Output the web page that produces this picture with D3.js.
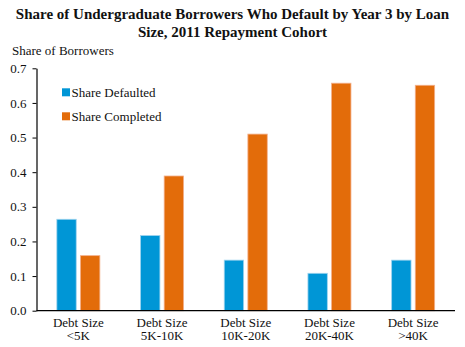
<!DOCTYPE html>
<html>
<head>
<meta charset="utf-8">
<script src="https://cdnjs.cloudflare.com/ajax/libs/d3/7.8.5/d3.min.js"></script>
<style>
  html, body { margin: 0; padding: 0; background: #fff; }
  svg { display: block; font-family: "Liberation Serif", "Times New Roman", serif; }
  svg text { font-family: "Liberation Serif", "Times New Roman", serif; }
</style>
</head>
<body>
<svg id="chart" width="465" height="347"></svg>
<script>
// Loan-size cohorts (two-line axis labels)
const categories = ["<5K", "5K-10K", "10K-20K", "20K-40K", ">40K"];
const categoryPrefix = "Debt Size";
const seriesNames = ["Share Defaulted", "Share Completed"];
const shareDefaulted = [0.264, 0.217, 0.146, 0.108, 0.146];
const shareCompleted = [0.159, 0.389, 0.510, 0.657, 0.651];
const yTicks = [0, 0.1, 0.2, 0.3, 0.4, 0.5, 0.6, 0.7];
const titleLines = ["Share of Undergraduate Borrowers Who Default by Year 3 by Loan",
                    "Size, 2011 Repayment Cohort"];
const yAxisTitle = "Share of Borrowers";
const colors = ["#0096d6", "#e36c0a"];

const seriesValues = [shareDefaulted, shareCompleted];
const serif = "'Liberation Serif', 'Times New Roman', serif";
const svg = d3.select("#chart");

const plot = { left: 36.5, right: 455, top: 68.3, bottom: 310.7 };

const x = d3.scaleBand()
  .domain(categories)
  .range([plot.left, plot.right])
  .paddingInner(0.486)
  .paddingOuter(0.243);

const xInner = d3.scaleBand()
  .domain(seriesNames)
  .range([0, x.bandwidth()])
  .paddingInner(0.18);

const y = d3.scaleLinear().domain([0, 0.7]).range([plot.bottom, plot.top]);

// Title
svg.append("g").selectAll("text")
  .data(titleLines)
  .join("text")
  .attr("x", 232.5)
  .attr("y", (d, i) => 19 + i * 18)
  .attr("text-anchor", "middle")
  .attr("font-size", 15)
  .attr("font-weight", "bold")
  .attr("fill", "#111")
  .text(d => d);

// Y axis heading
svg.append("text")
  .attr("x", 12)
  .attr("y", 55)
  .attr("font-size", 13)
  .attr("fill", "#111")
  .text(yAxisTitle);

// Bars
const groups = svg.append("g").selectAll("g")
  .data(categories)
  .join("g")
  .attr("transform", d => `translate(${x(d)},0)`);

groups.selectAll("rect")
  .data((d, i) => seriesNames.map((s, j) => ({ s, j, v: seriesValues[j][i] })))
  .join("rect")
  .attr("x", d => xInner(d.s))
  .attr("y", d => y(d.v))
  .attr("width", xInner.bandwidth())
  .attr("height", d => y(0) - y(d.v))
  .attr("fill", d => colors[d.j])
  .attr("stroke", d => d.j === 0 ? "#9fd3ee" : "#f3b08c")
  .attr("stroke-width", 0.8);

// Y axis
const yAxis = svg.append("g")
  .attr("transform", `translate(${plot.left},0)`)
  .call(d3.axisLeft(y).tickValues(yTicks).tickFormat(d3.format(".1f"))
    .tickSizeInner(4).tickSizeOuter(0).tickPadding(6));
yAxis.attr("font-family", serif).attr("font-size", 13);
yAxis.select(".domain").attr("stroke", "#000").attr("stroke-width", 1.2);
yAxis.selectAll(".tick line").attr("stroke", "#000");
yAxis.selectAll(".tick text").attr("fill", "#111");

// X axis
const xAxis = svg.append("g")
  .attr("transform", `translate(0,${plot.bottom})`)
  .call(d3.axisBottom(x).tickSize(0).tickFormat(""));
xAxis.attr("font-family", serif).attr("font-size", 13);
xAxis.select(".domain")
  .attr("d", `M${plot.left},0H${plot.right}`)
  .attr("stroke", "#000").attr("stroke-width", 1.2);

xAxis.selectAll(".tick").each(function (d) {
  const t = d3.select(this).append("text")
    .attr("text-anchor", "middle")
    .attr("fill", "#111");
  t.append("tspan").attr("x", 0).attr("y", 16).text(categoryPrefix);
  t.append("tspan").attr("x", 0).attr("y", 29.5).text(d);
});

// Legend
const legend = svg.append("g").selectAll("g")
  .data(seriesNames)
  .join("g")
  .attr("transform", (d, i) => `translate(62,${88.3 + i * 24})`);
legend.append("rect")
  .attr("width", 8).attr("height", 8)
  .attr("fill", (d, i) => colors[i]);
legend.append("text")
  .attr("x", 9.5).attr("y", 8.3)
  .attr("font-size", 13)
  .attr("fill", "#111")
  .text(d => d);
</script>
</body>
</html>
